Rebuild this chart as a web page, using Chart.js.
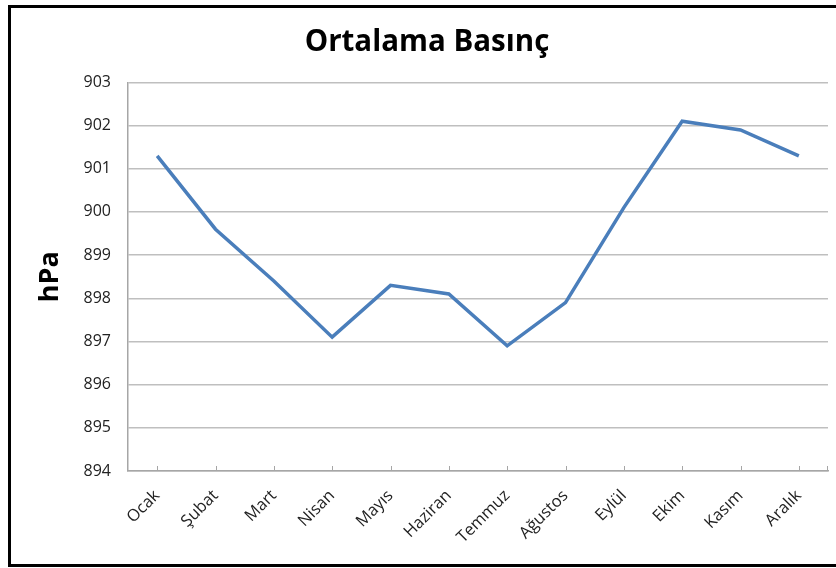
<!DOCTYPE html>
<html>
<head>
<meta charset="utf-8">
<script src="https://cdn.jsdelivr.net/npm/chart.js@4.4.1/dist/chart.umd.min.js"></script>
<style>
  html, body { margin:0; padding:0; background:#fff; }
  #wrap { position:relative; width:836px; height:568px; overflow:hidden; }
  #c { position:absolute; left:0; top:0; }
  #frame { position:absolute; left:8px; top:5px; width:840px; height:556px;
           border:3.5px solid #000; border-right:none; pointer-events:none; }
</style>
</head>
<body>
<div id="wrap">
  <canvas id="c" width="836" height="568"></canvas>
  <div id="frame"></div>
</div>
<script>
'use strict';
const months = ['Ocak','Şubat','Mart','Nisan','Mayıs','Haziran','Temmuz','Ağustos','Eylül','Ekim','Kasım','Aralık'];
const pressure = [901.3, 899.6, 898.4, 897.1, 898.3, 898.1, 896.9, 897.9, 900.1, 902.1, 901.9, 901.3];
const yMin = 894, yMax = 903, yStep = 1;

const FONT = '"Open Sans", "DejaVu Sans", sans-serif';

// small inside tick marks at each category on the x axis (Excel style)
const xTickMarks = {
  id:'xTickMarks',
  afterDraw(chart) {
    const x = chart.scales.x, ctx = chart.ctx, b = chart.chartArea.bottom;
    ctx.save();
    ctx.strokeStyle = '#a6a6a6'; ctx.lineWidth = 1;
    ctx.beginPath();
    for (let i = 0; i < months.length; i++) {
      const px = Math.round(x.getPixelForTick(i)) + 0.5;
      ctx.moveTo(px, b - 5); ctx.lineTo(px, b);
    }
    const r = Math.round(chart.chartArea.right) - 0.5;
    ctx.moveTo(r, b - 5); ctx.lineTo(r, b);
    ctx.stroke();
    ctx.restore();
  }
};

new Chart(document.getElementById('c'), {
  type:'line',
  data:{ labels:months, datasets:[{ label:'hPa', data:pressure,
    borderColor:'#4a7ebb', borderWidth:3.5, pointRadius:0, tension:0, fill:false }] },
  options:{
    responsive:false, animation:false,
    layout:{ padding:{ left:26, right:8, top:0, bottom:0 } },
    plugins:{
      legend:{ display:false }, tooltip:{ enabled:false },
      title:{ display:true, text:'Ortalama Basınç', color:'#000',
        font:{ family:FONT, size:29.5, weight:'bold' }, padding:{ top:25, bottom:22 } },
    },
    scales:{
      x:{ offset:true,
        grid:{ display:true, drawOnChartArea:false, drawTicks:false, color:'#a6a6a6' },
        border:{ display:true, color:'#a6a6a6', width:1.5 },
        ticks:{ color:'#222', font:{ family:FONT, size:16.5 }, minRotation:45, maxRotation:45, padding:15, autoSkip:false },
        afterFit(s) { s.height = 97; } },
      y:{ min:yMin, max:yMax,
        grid:{ color:'#bfbfbf', lineWidth:1.5, drawTicks:false },
        border:{ display:true, color:'#a6a6a6', width:1.5 },
        ticks:{ stepSize:yStep, color:'#222', font:{ family:FONT, size:16 }, padding:17 },
        title:{ display:true, text:'hPa', color:'#000', font:{ family:FONT, size:27, weight:'bold' }, padding:{ top:8, bottom:0 } },
        afterFit(s) { s.width = 102; } },
    },
  },
  plugins:[xTickMarks],
});
</script>
</body>
</html>
